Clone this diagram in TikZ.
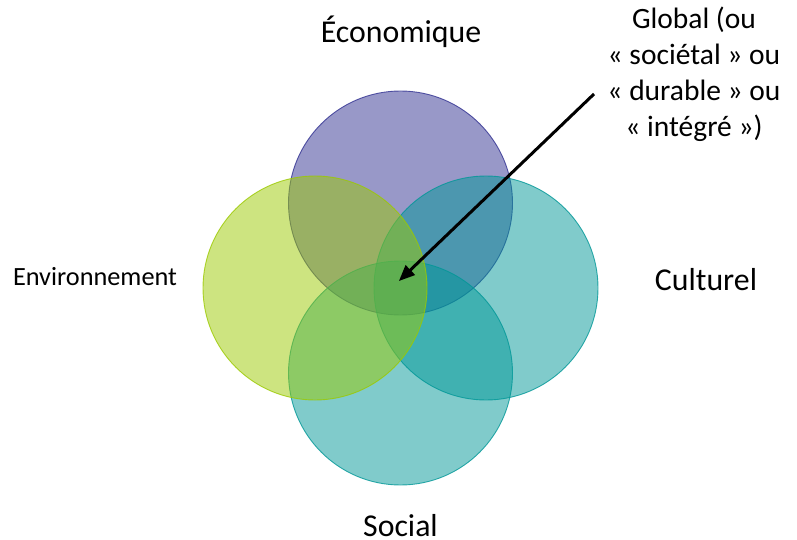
\documentclass[tikz,border=0pt]{standalone}
\usepackage{fontspec}
\setmainfont{Carlito}
\usetikzlibrary{arrows.meta}
\definecolor{ecoC}{RGB}{49,49,145}
\definecolor{envC}{RGB}{155,201,1}
\definecolor{culC}{RGB}{1,151,151}
\tikzset{
  venn/.style={circle, minimum size=224pt, inner sep=0pt, fill opacity=0.5, draw opacity=0.8, line width=0.9pt},
  lab/.style={inner sep=0pt, anchor=base, font=\fontsize{31.8}{38}\selectfont},
  pointer/.style={line width=3pt, -{Triangle[length=16pt,width=13pt]}, shorten >=-3pt}
}
\begin{document}
\begin{tikzpicture}[x=1pt,y=-1pt]
\useasboundingbox (0,0) rectangle (797,540);
\node[venn, fill=ecoC, draw=ecoC] (eco) at (400.5,203) {};
\node[venn, fill=culC, draw=culC] (cul) at (486,288) {};
\node[venn, fill=culC, draw=culC] (soc) at (400.5,373) {};
\node[venn, fill=envC, draw=envC] (env) at (315,288) {};
\node[lab] (tEco) at (401,43) {Économique};
\node[lab] (tCul) at (706,290) {Culturel};
\node[lab] (tSoc) at (400.5,536) {Social};
\node[lab, font=\fontsize{26.3}{30}\selectfont] (tEnv) at (95,285) {Environnement};
\node[inner sep=0pt, align=center, anchor=north, font=\fontsize{29.5}{36}\selectfont] (tGlob) at (694,7) {Global (ou\\« sociétal » ou\\« durable » ou\\« intégré »)};
\coordinate (start) at (594,94);
\coordinate (tip) at (401,279);
\draw[pointer] (start) -- (tip);
\end{tikzpicture}
\end{document}
